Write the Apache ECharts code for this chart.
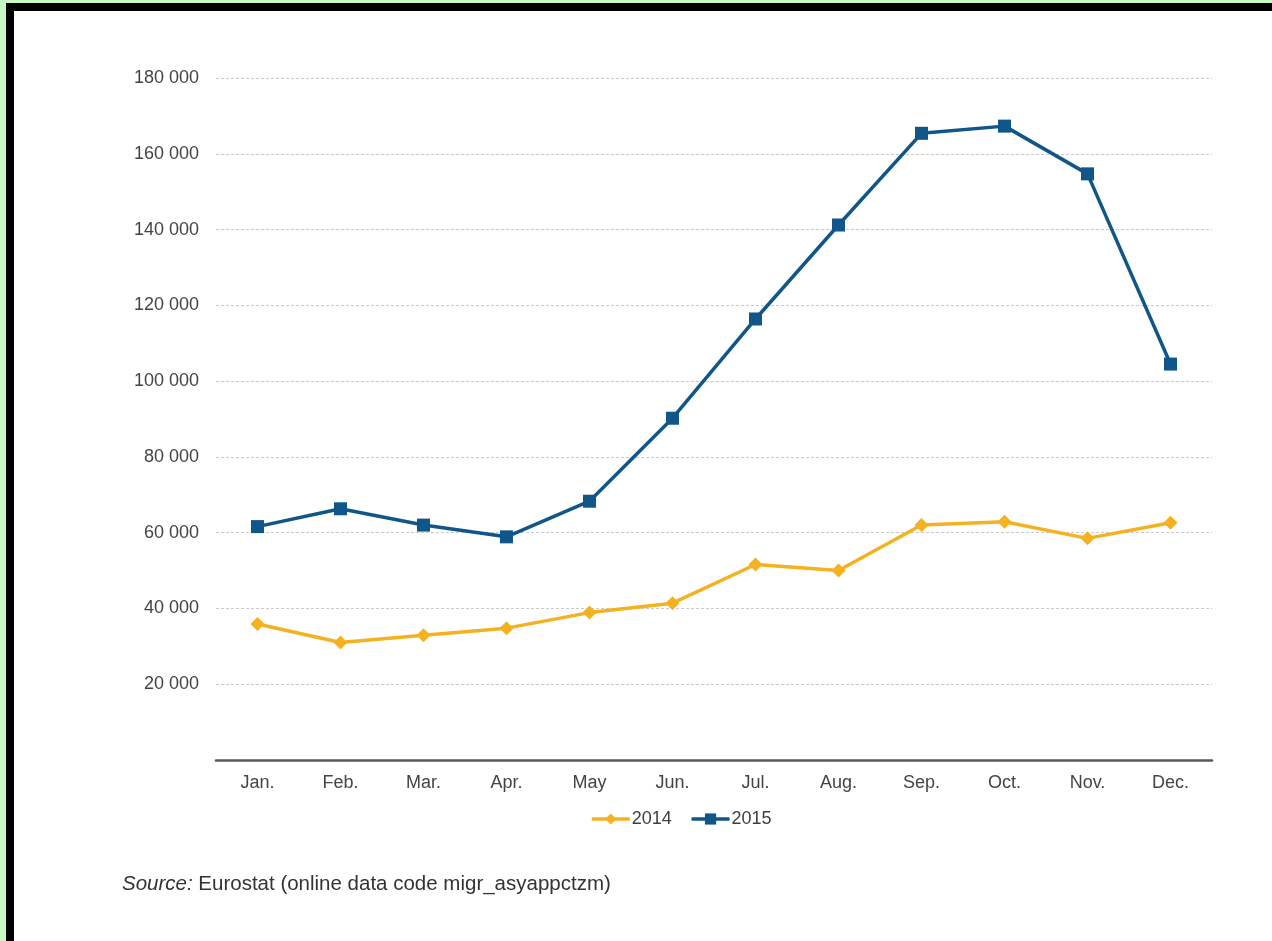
<!DOCTYPE html>
<html>
<head>
<meta charset="utf-8">
<script src="https://cdn.jsdelivr.net/npm/echarts@6/dist/echarts.min.js"></script>
<style>
  html, body { margin: 0; padding: 0; background: #ffffff; }
  #chart { width: 1272px; height: 941px; }
</style>
</head>
<body>
<div id="chart"></div>
<script>
const months = ['Jan.', 'Feb.', 'Mar.', 'Apr.', 'May', 'Jun.', 'Jul.', 'Aug.', 'Sep.', 'Oct.', 'Nov.', 'Dec.'];
const values2014 = [35900, 31000, 32900, 34800, 38900, 41400, 51600, 50000, 62000, 62900, 58500, 62600];
const values2015 = [61600, 66300, 62000, 58900, 68300, 90200, 116400, 141200, 165400, 167300, 154700, 104500];
const seriesNames = ['2014', '2015'];
const yTicks = { min: 0, max: 180000, interval: 20000 };
const sourceLabel = 'Source:';
const sourceText = ' Eurostat (online data code migr_asyappctzm)';

const FONT = '"Liberation Sans", Arial, sans-serif';
const chart = echarts.init(document.getElementById('chart'));

function fmt(v) {
  if (v === 0) return '';
  return String(v).replace(/\B(?=(\d{3})+(?!\d))/g, ' ');
}

chart.setOption({
  backgroundColor: '#ffffff',
  animation: false,
  grid: { left: 216, right: 60, top: 78, bottom: 181 },
  xAxis: {
    type: 'category',
    data: months,
    boundaryGap: true,
    axisLine: { lineStyle: { color: '#5a5a5a', width: 2.5 } },
    axisTick: { show: false },
    axisLabel: { color: '#444', fontSize: 18, fontFamily: FONT, margin: 14 }
  },
  yAxis: {
    type: 'value',
    min: yTicks.min, max: yTicks.max, interval: yTicks.interval,
    axisLine: { show: false },
    axisTick: { show: false },
    axisLabel: { color: '#444', fontSize: 18, fontFamily: FONT, margin: 17, formatter: fmt },
    splitLine: { lineStyle: { color: '#c9c9c9', width: 1, type: [3, 2] } }
  },
  legend: {
    data: seriesNames,
    left: 590, top: 810, padding: 0,
    itemWidth: 38, itemHeight: 14, itemGap: 18,
    lineStyle: { width: 3.5 },
    textStyle: { color: '#404040', fontSize: 18, fontFamily: FONT, padding: [0, 0, 0, -3] }
  },
  series: [
    {
      name: seriesNames[0], type: 'line', data: values2014,
      symbol: 'diamond', symbolSize: 14,
      lineStyle: { color: '#f4b120', width: 3.5 },
      itemStyle: { color: '#f4b120' }
    },
    {
      name: seriesNames[1], type: 'line', data: values2015,
      symbol: 'rect', symbolSize: 13,
      lineStyle: { color: '#115688', width: 3.5 },
      itemStyle: { color: '#115688' }
    }
  ],
  graphic: [
    { type: 'rect', shape: { x: 0, y: 0, width: 1272, height: 3 }, style: { fill: '#c8f9c4' } },
    { type: 'rect', shape: { x: 0, y: 0, width: 6, height: 941 }, style: { fill: '#c8f9c4' } },
    { type: 'rect', shape: { x: 6, y: 3, width: 1266, height: 8 }, style: { fill: '#000000' } },
    { type: 'rect', shape: { x: 6, y: 3, width: 8, height: 938 }, style: { fill: '#000000' } },
    {
      type: 'text', left: 122, top: 874,
      style: {
        text: '{i|' + sourceLabel + '}{n|' + sourceText + '}',
        rich: {
          i: { fontStyle: 'italic', fontSize: 20.5, fontFamily: FONT, fill: '#333' },
          n: { fontSize: 20.5, fontFamily: FONT, fill: '#333' }
        }
      }
    }
  ]
});
</script>
</body>
</html>
